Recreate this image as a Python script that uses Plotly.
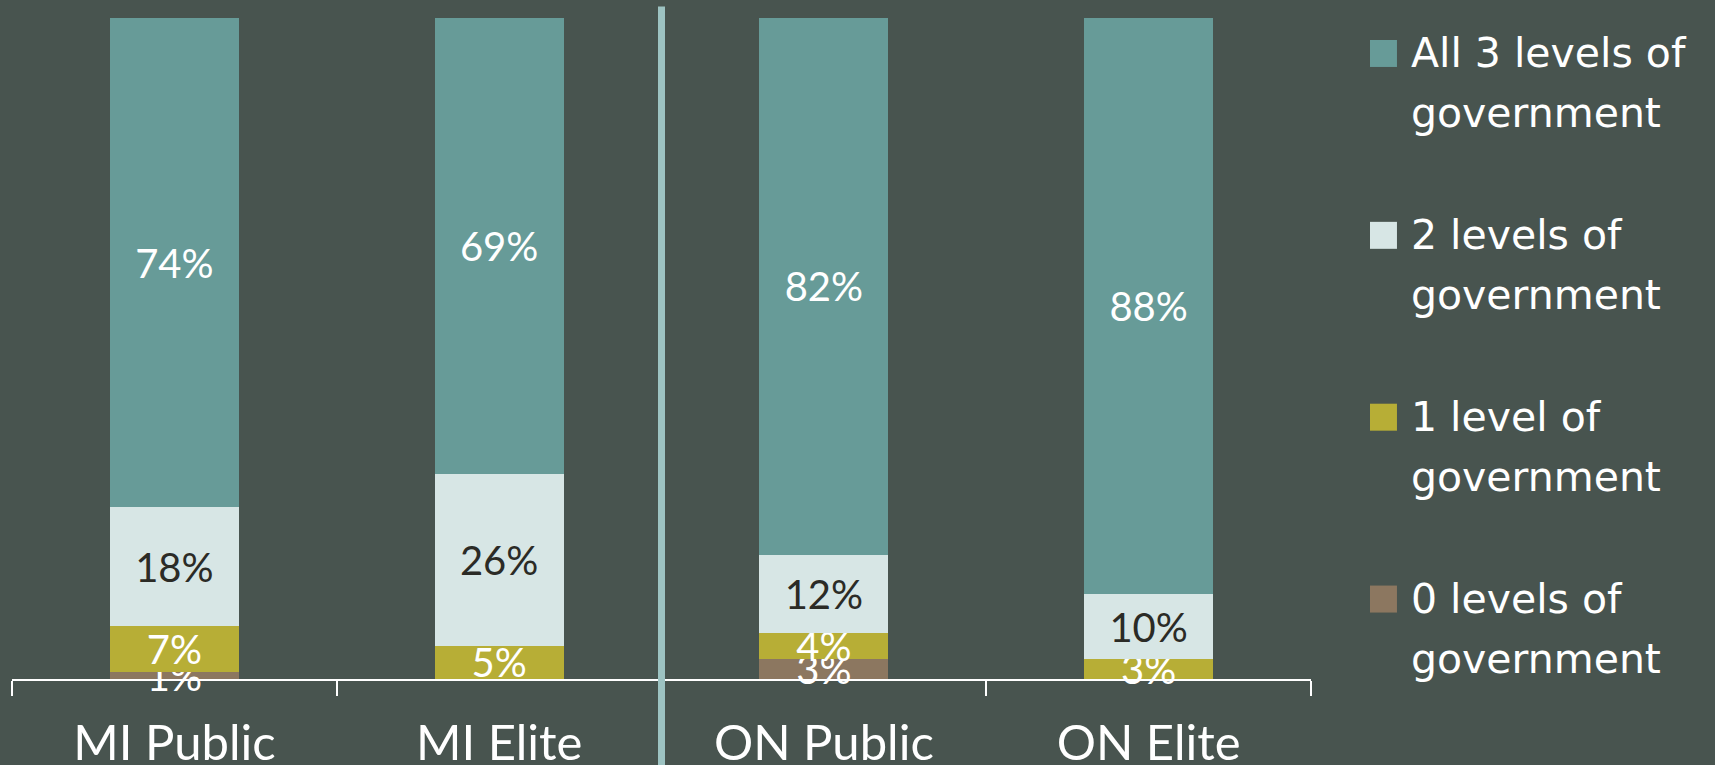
import plotly.graph_objects as go

categories = ["MI Public", "MI Elite", "ON Public", "ON Elite"]
zero_levels = [1, 0, 3, 0]
one_level = [7, 5, 4, 3]
two_levels = [18, 26, 12, 10]
three_levels = [74, 69, 82, 88]

series_names = ["0 levels of government", "1 level of government",
                "2 levels of government", "All 3 levels of government"]
legend_lines = [["All 3 levels of", "government"], ["2 levels of", "government"],
                ["1 level of", "government"], ["0 levels of", "government"]]

BG = "#48544f"
colors = {"0": "#8c7760", "1": "#b7ae36", "2": "#d7e6e5", "3": "#679b98"}
text_colors = {"0": "white", "1": "white", "2": "#2b2b26", "3": "white"}

W, H = 1715, 765
L_PX, R_PX = 11.5, 1311
T_PX, B_PX = 17.5, 679

fig = go.Figure()
for key, name, vals in [("0", series_names[0], zero_levels),
                        ("1", series_names[1], one_level),
                        ("2", series_names[2], two_levels),
                        ("3", series_names[3], three_levels)]:
    fig.add_trace(go.Bar(
        x=categories, y=vals, name=name,
        marker=dict(color=colors[key], line=dict(width=0)),
        text=[f"{v}%" if v else "" for v in vals],
        textposition="inside", insidetextanchor="middle",
        constraintext="none", textangle=0, cliponaxis=False,
        textfont=dict(family="Lato", size=40, color=text_colors[key]),
        showlegend=False, hoverinfo="skip",
    ))

fig.update_layout(
    width=W, height=H,
    barmode="stack", barnorm="percent", bargap=0.603,
    paper_bgcolor=BG, plot_bgcolor=BG,
    margin=dict(l=L_PX, r=W - R_PX, t=T_PX, b=H - B_PX, pad=0, autoexpand=False),
    showlegend=False,
)
fig.update_xaxes(
    range=[-0.5, 3.5], showline=True, linecolor="white", linewidth=2,
    ticks="outside", tickson="boundaries", ticklen=15, tickwidth=2, tickcolor="white",
    showgrid=False, zeroline=False, ticklabelstandoff=20, automargin=False,
    tickfont=dict(family="Lato", size=49, color="white"),
)
fig.update_yaxes(range=[0, 100], visible=False, showgrid=False, zeroline=False,
                 automargin=False)


def px_x(p):
    return (p - L_PX) / (R_PX - L_PX)


def px_y(p):
    return (B_PX - p) / (B_PX - T_PX)


# separator between MI and ON groups
fig.add_shape(type="line", xref="x", yref="paper", x0=1.5, x1=1.5,
              y0=px_y(H + 5), y1=px_y(6), line=dict(color="#9dc3c2", width=7),
              layer="above")

# legend drawn manually
legend_colors = [colors["3"], colors["2"], colors["1"], colors["0"]]
for i, (lines, col) in enumerate(zip(legend_lines, legend_colors)):
    cy = 53 + i * 182
    fig.add_shape(type="rect", xref="paper", yref="paper",
                  x0=px_x(1370), x1=px_x(1397), y0=px_y(cy + 13.5), y1=px_y(cy - 13.5),
                  fillcolor=col, line=dict(width=0))
    for j, t in enumerate(lines):
        fig.add_annotation(xref="paper", yref="paper", x=px_x(1409),
                           y=px_y(cy + j * 60), text=t, showarrow=False,
                           xanchor="left", yanchor="middle",
                           font=dict(family="DejaVu Sans", size=41, color="white"))

fig.write_html(
    "out.html",
    config={"displayModeBar": False},
    post_script="document.body.style.margin='0';document.body.style.overflow='hidden';"
                "document.body.style.background='" + BG + "';",
)
